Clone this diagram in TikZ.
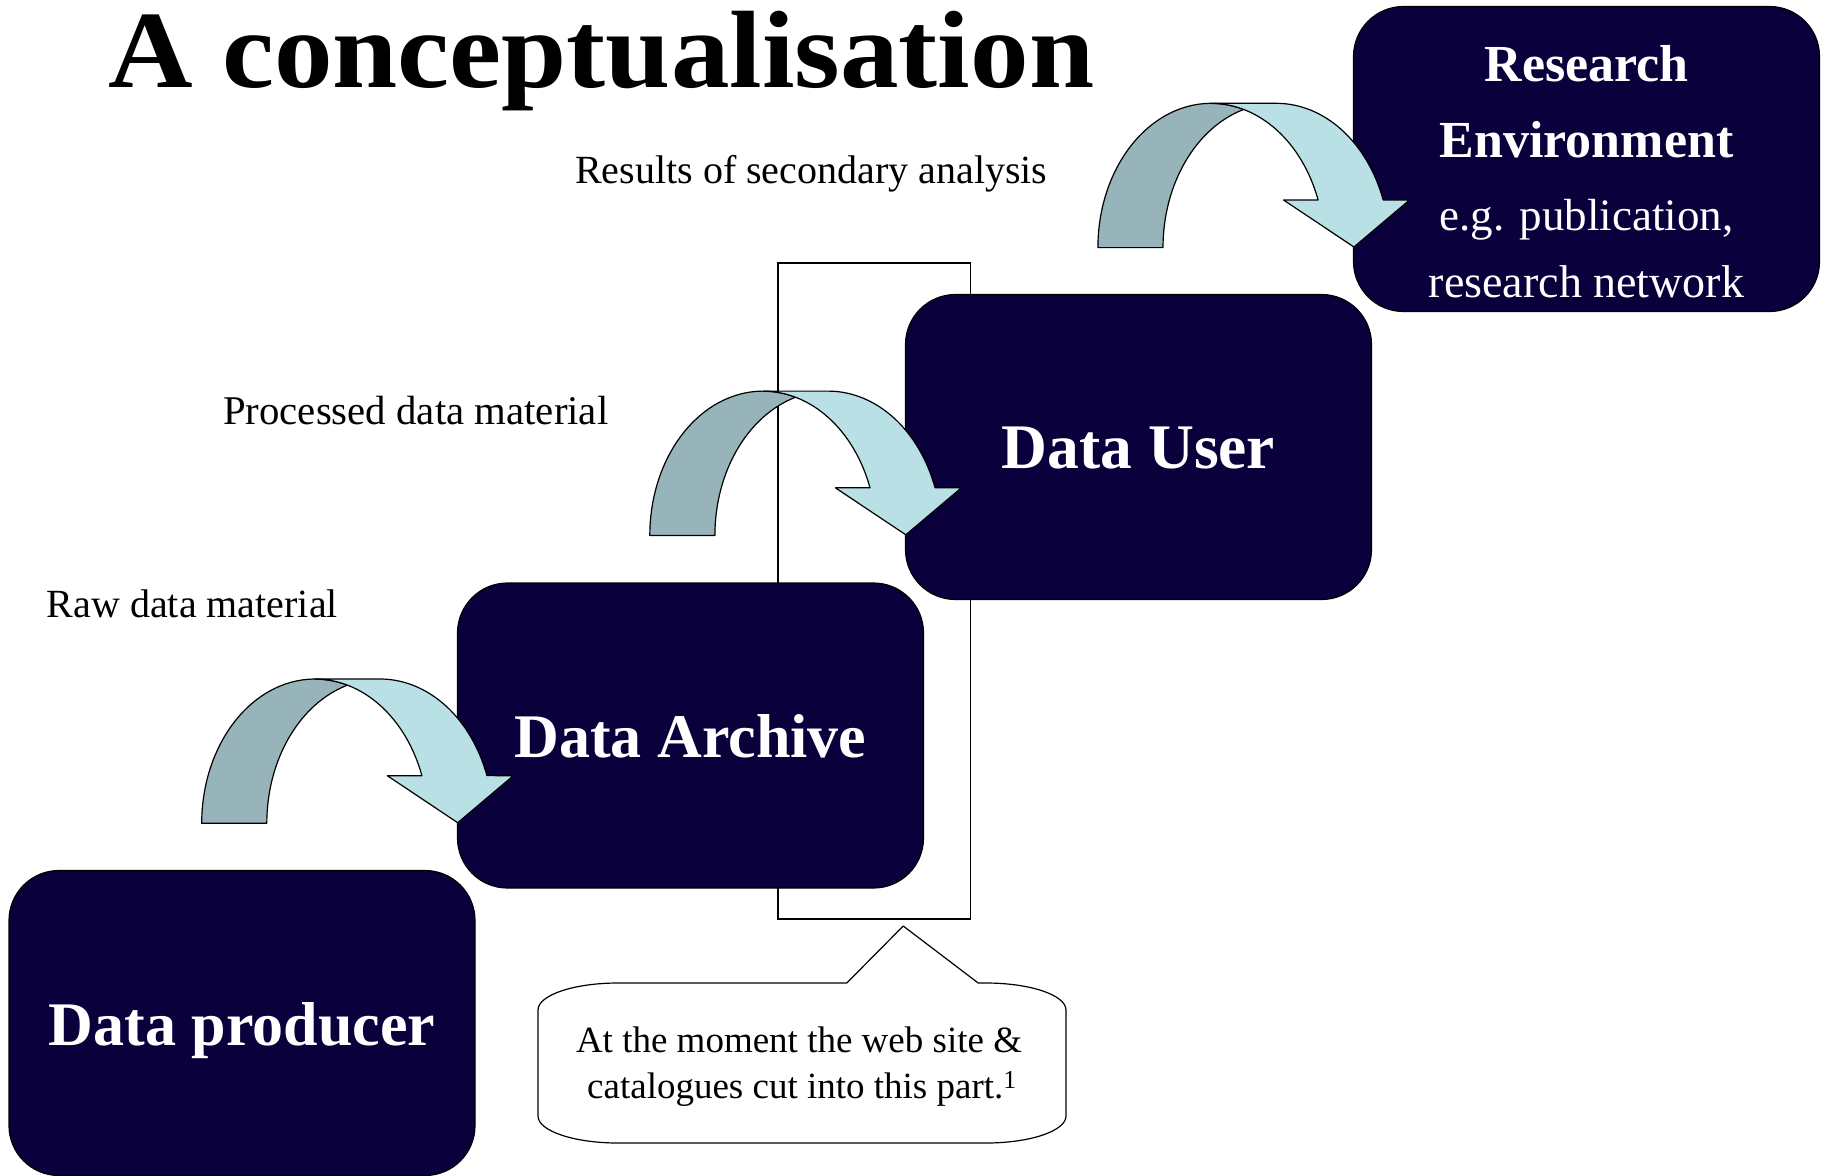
\documentclass[tikz,border=0pt]{standalone}
\usepackage{fontspec}
\setmainfont{Liberation Serif}
\definecolor{boxblue}{RGB}{10,0,60}
\definecolor{arrgrey}{RGB}{150,180,185}
\definecolor{arrlight}{RGB}{185,224,229}
\tikzset{
  darkbox/.style={draw=black, line width=1.2pt, fill=boxblue, rounded corners=50pt,
    minimum width=466pt, minimum height=305pt, inner sep=0pt},
  boxlabel/.style={text=white, font=\fontsize{62}{70}\selectfont\bfseries, anchor=base, inner sep=0pt},
  reslabel/.style={text=white, font=\fontsize{52}{60}\selectfont\bfseries, anchor=base, inner sep=0pt},
  ressub/.style={text=white, font=\fontsize{46}{55}\selectfont, anchor=base, inner sep=0pt},
  plainlabel/.style={font=\fontsize{40}{48}\selectfont, anchor=base west, inner sep=0pt},
  calltext/.style={font=\fontsize{37}{44}\selectfont, anchor=base, inner sep=0pt},
  outl/.style={draw=black, line width=1.2pt, line join=round},
  curvarrow/.pic={
    \filldraw[outl, fill=arrgrey]
      (0,0) arc[start angle=180, end angle=286.7, x radius=113.3, y radius=144.3]
      arc[start angle=253.3, end angle=180, x radius=113.3, y radius=144.3] -- cycle;
    \filldraw[outl, fill=arrlight]
      (113.3,-144.3) -- (178.3,-144.3)
      arc[start angle=270, end angle=340.7, x radius=113.3, y radius=144.3]
      -- (311.6,-47.6) -- (256,-0.6) -- (185.6,-47.6) -- (220.2,-47.6)
      arc[start angle=340.7, end angle=270, x radius=113.3, y radius=144.3] -- cycle;
  }
}
\begin{document}
\begin{tikzpicture}[x=1pt,y=-1pt]
\fill[white] (0,0) rectangle (1822,1175);
\useasboundingbox (0,0) rectangle (1822,1175);

% title
\node[font=\fontsize{110}{114}\selectfont\bfseries, anchor=base west, inner sep=0pt] (title) at (108,87) {\scalebox{1.065}[1]{A conceptualisation}};

% flow labels
\node[plainlabel] (lres) at (575,183) {Results of secondary analysis};
\node[plainlabel, font=\fontsize{40.8}{48}\selectfont] (lproc) at (223,424) {Processed data material};
\node[plainlabel] (lraw) at (46.7,617) {Raw data material};

% bracket rectangle
\node[draw=black, line width=1.2pt, minimum width=192.5pt, minimum height=656pt, inner sep=0pt] (cutrect) at (874.25,591) {};

% callout
\draw[outl, fill=white] (846.8,983) -- (903.2,926) -- (978.2,983) -- (986,983)
  arc[start angle=270, end angle=360, x radius=80, y radius=27] -- (1066,1116)
  arc[start angle=0, end angle=90, x radius=80, y radius=27] -- (618,1143)
  arc[start angle=90, end angle=180, x radius=80, y radius=27] -- (538,1010)
  arc[start angle=180, end angle=270, x radius=80, y radius=27] -- cycle;
\node[calltext] (callA) at (799,1052) {At the moment the web site \&};
\node[calltext] (callB) at (802,1098) {catalogues cut into this part.\textsuperscript{1}};

% boxes
\node[darkbox] (prod) at (242,1023) {};
\node[darkbox] (arch) at (690.5,735.5) {};
\node[darkbox] (user) at (1138.5,447) {};
\node[darkbox] (resenv) at (1586.5,159) {};

\node[boxlabel] (tprod) at (242,1045) {Data producer};
\node[boxlabel] (tarch) at (690.5,757) {Data Archive};
\node[boxlabel, font=\fontsize{63.5}{70}\selectfont\bfseries] (tuser) at (1138.5,468) {Data User};
\node[reslabel] (tres1) at (1586.5,81) {Research};
\node[reslabel] (tres2) at (1586.5,157) {Environment};
\node[ressub, font=\fontsize{45}{55}\selectfont] (tres3) at (1586.5,230) {e.g. publication,};
\node[ressub] (tres4) at (1586.5,297) {research network};

% curved arrows
\pic at (201.7,823.3) {curvarrow};
\pic at (649.8,535.4) {curvarrow};
\pic at (1097.9,247.6) {curvarrow};
\end{tikzpicture}
\end{document}
